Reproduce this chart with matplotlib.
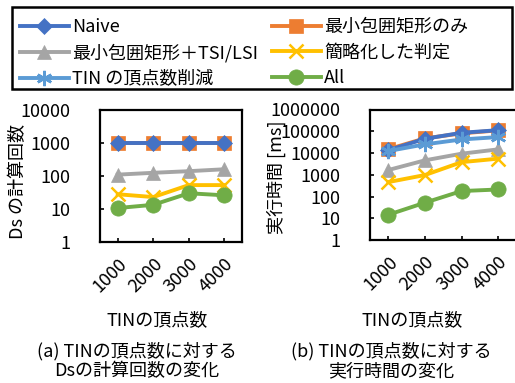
import matplotlib
matplotlib.use("Agg")
import matplotlib.pyplot as plt
from matplotlib.patches import Rectangle
import numpy as np

plt.rcParams['font.family'] = ['Noto Sans CJK JP', 'DejaVu Sans']

categories = ["1000", "2000", "3000", "4000"]
series_names = ["Naive", "最小包囲矩形のみ", "最小包囲矩形＋TSI/LSI", "簡略化した判定", "TIN の頂点数削減", "All"]

# (a) number of Ds computations
ds_naive = [1000, 1000, 1000, 1000]
ds_mbr = [1000, 1000, 1000, 1000]
ds_mbr_tsi = [110, 125, 140, 160]
ds_simple = [28, 23, 53, 53]
ds_all = [10.7, 13.4, 30, 26]

# (b) execution time [ms]
t_naive = [13500, 45000, 85000, 112000]
t_mbr = [15000, 47000, 80000, 110000]
t_mbr_tsi = [1650, 4600, 9300, 14700]
t_simple = [460, 970, 3800, 5500]
t_tin = [12300, 25000, 42000, 54000]
t_all = [14.5, 52, 178, 210]

colors = {"naive": "#4472C4", "mbr": "#ED7D31", "tsi": "#A5A5A5",
          "simple": "#FFC000", "tin": "#5B9BD5", "all": "#70AD47"}

FS = 13
W, H = 515, 383
fig = plt.figure(figsize=(W / 100, H / 100), dpi=100)

def fx(px):
    return px / W

def fy(py):
    return 1 - py / H

axL = fig.add_axes([fx(100), fy(242), fx(142), (242 - 110) / H])
axR = fig.add_axes([fx(370), fy(240), fx(146.5), (240 - 109.5) / H])

x = np.arange(len(categories))
lw = 2.8
asterisk = (6, 2, 0)

def draw(ax, data):
    handles = []
    for key, vals, marker, ms, z in data:
        mew = 1.8 if marker in ('x', asterisk) else 0.5
        if vals is None:
            h, = ax.plot([], [], color=colors[key], lw=lw, marker=marker, ms=ms,
                         markeredgewidth=mew, markeredgecolor=colors[key])
        else:
            h, = ax.plot(x, vals, color=colors[key], lw=lw, marker=marker, ms=ms,
                         markeredgewidth=mew, markeredgecolor=colors[key], zorder=z)
        handles.append(h)
    return handles

dataL = [("naive", ds_naive, 'D', 8, 4), ("mbr", ds_mbr, 's', 10, 3),
         ("tsi", ds_mbr_tsi, '^', 10, 5), ("simple", ds_simple, 'x', 10, 6),
         ("tin", None, asterisk, 11, 7), ("all", ds_all, 'o', 11, 8)]
dataR = [("naive", t_naive, 'D', 8, 4), ("mbr", t_mbr, 's', 10, 3),
         ("tsi", t_mbr_tsi, '^', 10, 5), ("simple", t_simple, 'x', 10, 6),
         ("tin", t_tin, asterisk, 11, 7), ("all", t_all, 'o', 11, 8)]

draw(axL, dataL)
handles = draw(axR, dataR)

for ax, top in ((axL, 10000), (axR, 1000000)):
    ax.set_yscale('log')
    ax.set_ylim(1, top)
    ax.set_xlim(-0.5, len(categories) - 0.5)
    ax.yaxis.set_major_locator(matplotlib.ticker.LogLocator(base=10, numticks=10))
    ax.yaxis.set_minor_locator(matplotlib.ticker.NullLocator())
    ax.yaxis.set_major_formatter(matplotlib.ticker.FuncFormatter(lambda v, p: f"{int(round(v))}"))
    ax.set_xticks(x)
    ax.set_xticklabels(categories, rotation=45, ha='right', va='top', rotation_mode='anchor')
    ax.tick_params(axis='both', direction='in', length=3, width=1.2, labelsize=FS, colors='black')
    ax.tick_params(axis='y', pad=21)
    ax.tick_params(axis='x', pad=9)
    for s in ax.spines.values():
        s.set_linewidth(1.6)
        s.set_color('black')

axR.spines['right'].set_visible(False)

fig.text(fx(18), fy(182), "Ds の計算回数", rotation=90, ha='center', va='center', fontsize=FS)
fig.text(fx(276), fy(177), "実行時間 [ms]", rotation=90, ha='center', va='center', fontsize=FS)
fig.text(fx(157), fy(320), "TINの頂点数", ha='center', va='center', fontsize=FS)
fig.text(fx(412), fy(320), "TINの頂点数", ha='center', va='center', fontsize=FS)
fig.text(fx(137), fy(361), "(a) TINの頂点数に対する\nDsの計算回数の変化", ha='center', va='center',
         fontsize=FS, linespacing=1.15, multialignment='center')
fig.text(fx(391), fy(361), "(b) TINの頂点数に対する\n実行時間の変化", ha='center', va='center',
         fontsize=FS, linespacing=1.15, multialignment='center')

# legend is filled row by row in the reference: reorder for column-first filling
order = [0, 2, 4, 1, 3, 5]
leg = fig.legend([handles[i] for i in order], [series_names[i] for i in order],
                 ncol=2, loc='upper left', bbox_to_anchor=(fx(20), fy(18)),
                 fontsize=FS, frameon=False, handlelength=2.7,
                 handletextpad=0.2, columnspacing=0.75, labelspacing=0.42,
                 borderaxespad=0, borderpad=0)
fig.patches.append(Rectangle((fx(12), fy(89)), fx(500), (89 - 7) / H, transform=fig.transFigure,
                             fill=False, edgecolor='black', linewidth=1.8))

fig.savefig("out.png", dpi=100)
